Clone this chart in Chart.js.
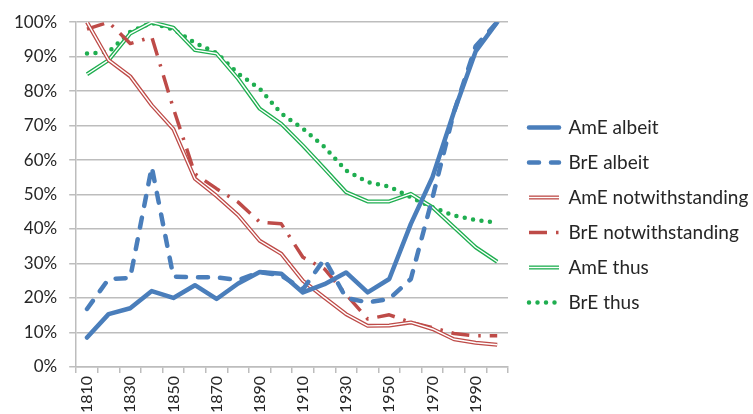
<!DOCTYPE html>
<html>
<head>
<meta charset="utf-8">
<script src="https://cdn.jsdelivr.net/npm/chart.js@4.4.1/dist/chart.umd.min.js"></script>
<style>
  html, body { margin: 0; padding: 0; background: #ffffff; }
  #wrap { width: 753px; height: 414px; position: relative; }
</style>
</head>
<body>
<div id="wrap"><canvas id="c" width="753" height="414"></canvas></div>
<script>
// ---- data (percent) ----
const years = ['1810','1820','1830','1840','1850','1860','1870','1880','1890','1900',
               '1910','1920','1930','1940','1950','1960','1970','1980','1990','2000'];
const shownYearLabels = ['1810','1830','1850','1870','1890','1910','1930','1950','1970','1990'];
const yTickValues = [0, 10, 20, 30, 40, 50, 60, 70, 80, 90, 100];

const amEAlbeit = [8.5, 15.3, 17, 22, 20, 23.7, 19.7, 24.2, 27.5, 27, 21.6, 24, 27.4, 21.6, 25.5, 41.5, 55, 74, 91.5, 100];
const brEAlbeit = [16.8, 25.5, 25.8, 58, 26.2, 26, 26, 25.2, 27.5, 26.5, 22.5, 31.3, 20, 18.7, 19.7, 25.5, 49, 74, 93, 100];
const amENotwithstanding = [100, 89, 84.3, 75.9, 69, 54.6, 49.6, 44, 36.6, 32.8, 25, 20.1, 15.3, 11.9, 12, 12.9, 11, 8, 7, 6.4];
const brENotwithstanding = [98, 100, 93.8, 95.7, 75, 56, 51.7, 47.8, 42, 41.5, 31.8, 28.4, 21, 13.9, 15.1, 12.9, 11.4, 9.7, 9, 9];
const amEThus = [84.9, 89, 96.7, 100, 98.4, 91.9, 90.9, 83.6, 74.9, 70.5, 64.2, 57.5, 50.7, 48, 48, 50.2, 46.3, 40.5, 34.7, 30.5];
const brEThus = [90.9, 91.4, 97.2, 99.8, 97.9, 94, 91.1, 85.1, 80.7, 73.5, 69.1, 63.8, 57, 53.6, 52.3, 49.2, 46.3, 43.9, 42.6, 41.8];

const seriesNames = ['AmE albeit', 'BrE albeit', 'AmE notwithstanding', 'BrE notwithstanding', 'AmE thus', 'BrE thus'];

// ---- styles ----
const BLUE = '#4A7EBB';
const RED = '#BE4B48';
const GREEN = '#1FAE50';
const FONT = 'Lato, "Open Sans", "Liberation Sans", sans-serif';
const TEXT = '#262626';
const GRID = '#BDBDBD';
const LEGEND_WIDTH = 245;
const LEGEND_SHIFT_X = 5;
const LEGEND_SHIFT_Y = -4;

function ds(label, data, color, extra) {
  return Object.assign({
    label: label,
    data: data,
    borderColor: color,
    backgroundColor: color,
    borderWidth: 4,
    pointRadius: 0,
    pointHoverRadius: 0,
    tension: 0,
    fill: false,
    borderJoinStyle: 'round',
    borderCapStyle: 'butt'
  }, extra || {});
}

const datasets = [
  ds(seriesNames[0], amEAlbeit, BLUE, { borderWidth: 4.5, borderCapStyle: 'round' }),
  ds(seriesNames[1], brEAlbeit, BLUE, { borderWidth: 4.5, borderDash: [10, 12], borderCapStyle: 'round' }),
  ds(seriesNames[2], amENotwithstanding, RED, { borderWidth: 4, double: true }),
  ds(seriesNames[3], brENotwithstanding, RED, { borderWidth: 3.5, borderDash: [18, 9, 2.5, 9] }),
  ds(seriesNames[4], amEThus, GREEN, { borderWidth: 4, double: true }),
  ds(seriesNames[5], brEThus, GREEN, { borderWidth: 4.5, borderDash: [0, 8.5], borderCapStyle: 'round' })
];

// legend box: fixed width and small offset
const legendPlacePlugin = {
  id: 'legendPlace',
  beforeLayout(chart) {
    const lg = chart.legend;
    if (lg && !lg._patchedFit) {
      const origFit = lg.fit;
      lg.fit = function () { origFit.call(this); this.width = LEGEND_WIDTH; };
      lg._patchedFit = true;
    }
  },
  afterLayout(chart) {
    const lg = chart.legend;
    if (!lg) return;
    lg.left += LEGEND_SHIFT_X; lg.right += LEGEND_SHIFT_X;
    lg.top += LEGEND_SHIFT_Y; lg.bottom += LEGEND_SHIFT_Y;
  }
};

// white centre stroke for "double" lines (chart and legend)
const doubleLinePlugin = {
  id: 'doubleLine',
  afterDatasetDraw(chart, args) {
    const dset = chart.data.datasets[args.index];
    if (!dset.double) return;
    const pts = args.meta.data;
    const ctx = chart.ctx;
    const a = chart.chartArea;
    ctx.save();
    ctx.beginPath();
    ctx.rect(a.left, a.top - 3, a.right - a.left, a.bottom - a.top + 6);
    ctx.clip();
    ctx.beginPath();
    pts.forEach((p, i) => { if (i === 0) ctx.moveTo(p.x, p.y); else ctx.lineTo(p.x, p.y); });
    ctx.strokeStyle = '#ffffff';
    ctx.lineWidth = 1.4;
    ctx.lineJoin = 'round';
    ctx.setLineDash([]);
    ctx.stroke();
    ctx.restore();
  },
  afterDraw(chart) {
    const lg = chart.legend;
    if (!lg || !lg.legendHitBoxes) return;
    const ctx = chart.ctx;
    const fs = lg.options.labels.font.size;
    const bw = lg.options.labels.pointStyleWidth;
    lg.legendItems.forEach((item, i) => {
      const dset = chart.data.datasets[item.datasetIndex];
      if (!dset.double) return;
      const hb = lg.legendHitBoxes[i];
      const cy = hb.top + fs / 2;
      ctx.save();
      ctx.beginPath();
      ctx.moveTo(hb.left, cy);
      ctx.lineTo(hb.left + bw, cy);
      ctx.strokeStyle = '#ffffff';
      ctx.lineWidth = 1.4;
      ctx.stroke();
      ctx.restore();
    });
  }
};

new Chart(document.getElementById('c'), {
  type: 'line',
  data: { labels: years, datasets: datasets },
  plugins: [legendPlacePlugin, doubleLinePlugin],
  options: {
    responsive: false,
    animation: false,
    devicePixelRatio: 1,
    layout: { padding: { left: 2, right: 0, top: 22, bottom: -2 } },
    plugins: {
      tooltip: { enabled: false },
      legend: {
        position: 'right',
        align: 'center',
        maxWidth: 300,
        labels: {
          usePointStyle: true,
          pointStyle: 'line',
          pointStyleWidth: 30,
          padding: 16,
          color: TEXT,
          font: { family: FONT, size: 19 },
          generateLabels: function (chart) {
            return chart.data.datasets.map((d, i) => ({
              text: d.label,
              datasetIndex: i,
              fillStyle: d.borderColor,
              strokeStyle: d.borderColor,
              lineWidth: d.borderWidth,
              lineDash: d.borderDash || [],
              lineDashOffset: 0,
              lineCap: d.borderCapStyle,
              lineJoin: 'round',
              pointStyle: 'line',
              rotation: 0,
              hidden: false,
              fontColor: TEXT
            }));
          }
        }
      }
    },
    scales: {
      x: {
        type: 'category',
        offset: true,
        grid: {
          offset: true,
          drawOnChartArea: false,
          drawTicks: true,
          tickLength: 6,
          color: GRID,
          lineWidth: 1.5
        },
        border: { display: true, color: GRID, width: 1.5 },
        ticks: {
          autoSkip: false,
          maxRotation: 90,
          minRotation: 90,
          padding: 3,
          color: TEXT,
          font: { family: FONT, size: 16 },
          callback: function (value, index) {
            const lab = years[index];
            return shownYearLabels.includes(lab) ? lab : '';
          }
        }
      },
      y: {
        min: 0,
        max: 100,
        afterBuildTicks: function (axis) { axis.ticks = yTickValues.map(v => ({ value: v })); },
        grid: { color: GRID, lineWidth: 1.5, tickLength: 7, drawTicks: true },
        border: { display: true, color: GRID, width: 1.5 },
        ticks: {
          padding: 12,
          color: TEXT,
          font: { family: FONT, size: 17 },
          callback: function (v) { return v + '%'; }
        }
      }
    }
  }
});
</script>
</body>
</html>
